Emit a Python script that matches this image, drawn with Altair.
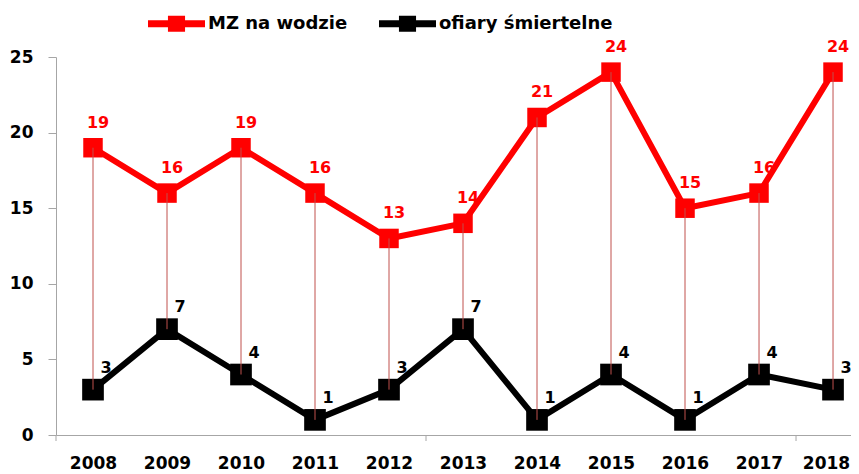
import altair as alt
import pandas as pd

years = [2008, 2009, 2010, 2011, 2012, 2013, 2014, 2015, 2016, 2017, 2018]
mz_values = [19, 16, 19, 16, 13, 14, 21, 24, 15, 16, 24]
victims_values = [3, 7, 4, 1, 3, 7, 1, 4, 1, 4, 3]
series_names = ["MZ na wodzie", "ofiary śmiertelne"]
series_colors = ["#ff0000", "#000000"]
tick_boundaries = [2007.5, 2012.5, 2017.5]
y_ticks = [0, 5, 10, 15, 20, 25]

FONT = "DejaVu Sans"
PLOT_W, PLOT_H = 795, 378

wide = pd.DataFrame({"year": years, "mz": mz_values, "of": victims_values})
long = pd.concat([
    pd.DataFrame({"year": years, "value": mz_values, "series": series_names[0]}),
    pd.DataFrame({"year": years, "value": victims_values, "series": series_names[1]}),
], ignore_index=True)
bounds = pd.DataFrame({"year": tick_boundaries})

xscale = alt.Scale(domain=[2007.5, 2018.243], nice=False, zero=False)
yscale = alt.Scale(domain=[0, 25], nice=False)
cscale = alt.Scale(domain=series_names, range=series_colors)

x_axis = alt.Axis(
    values=years,
    format="d",
    ticks=False,
    domainColor="#a6a6a6",
    labelPadding=20,
    labelOffset={"condition": {"test": "datum.value === 2018", "value": -7}, "value": 0},
    labelFont=FONT,
    labelFontSize=17,
    labelFontWeight="bold",
    labelColor="#000000",
    labelOverlap=False,
    labelFlush=False,
    grid=False,
    title=None,
)
y_axis = alt.Axis(
    values=y_ticks,
    tickSize=8,
    tickColor="#a6a6a6",
    domainColor="#a6a6a6",
    labelPadding=15,
    labelFont=FONT,
    labelFontSize=17,
    labelFontWeight="bold",
    labelColor="#000000",
    grid=False,
    title=None,
)

legend = alt.Legend(
    title=None,
    orient="none",
    legendX=92,
    legendY=-62,
    direction="horizontal",
    symbolType="M-1,-0.12H1V0.12H-1Z M-0.3,-0.28H0.3V0.28H-0.3Z",
    symbolSize=3249,
    symbolStrokeWidth=0,
    symbolOpacity=1,
    labelFont=FONT,
    labelFontSize=18,
    labelFontWeight="bold",
    labelColor="#000000",
    labelOffset=3,
    labelLimit=400,
    columnPadding=31,
)

X = alt.X("year:Q", scale=xscale, axis=x_axis)


def Y(field):
    return alt.Y(field, scale=yscale, axis=y_axis)


def line_layer(i):
    return alt.Chart(long).transform_filter(
        alt.datum.series == series_names[i]
    ).mark_line(strokeWidth=6, strokeJoin="round", strokeCap="round", color=series_colors[i]).encode(
        x=X, y=Y("value:Q")
    )


def point_layer(i, size):
    return alt.Chart(long).transform_filter(
        alt.datum.series == series_names[i]
    ).mark_point(shape="square", filled=True, opacity=1, size=size).encode(
        x=X,
        y=Y("value:Q"),
        color=alt.Color("series:N", scale=cscale, legend=legend),
    )


# small category-group tick marks below the x axis
group_ticks = alt.Chart(bounds).mark_rule(color="#a6a6a6", strokeWidth=1).encode(
    x=X, y=alt.value(PLOT_H), y2=alt.value(PLOT_H + 6),
)

drops = alt.Chart(wide).mark_rule(color="#c0504d", strokeWidth=1).encode(
    x=X, y=Y("of:Q"), y2="mz:Q",
)

lab_red = alt.Chart(wide).mark_text(
    dx=5, dy=-25, font=FONT, fontSize=16, fontWeight="bold", color="#ff0000"
).encode(x=X, y=Y("mz:Q"), text="mz:Q")

lab_black = alt.Chart(wide).mark_text(
    dx=13, dy=-22, font=FONT, fontSize=16, fontWeight="bold", color="#000000"
).encode(x=X, y=Y("of:Q"), text="of:Q")

chart = alt.layer(
    group_ticks, line_layer(0), line_layer(1), point_layer(0, 380), point_layer(1, 470),
    drops, lab_red, lab_black,
).properties(
    width=PLOT_W,
    height=PLOT_H,
    padding={"left": 48, "top": 49, "right": 0, "bottom": 39},
    autosize="none",
    background="#ffffff",
).configure_view(stroke=None).configure_axis(labelOverlap=False)

chart.save("out.html", embed_options={"renderer": "svg", "actions": False})
